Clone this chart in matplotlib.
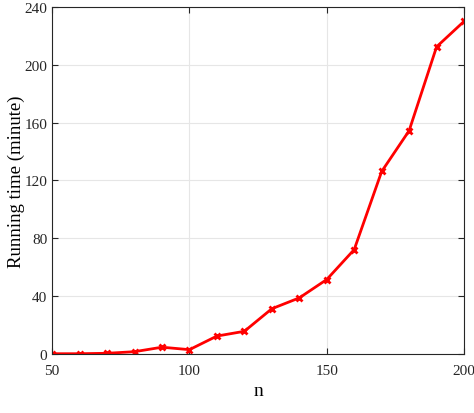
import numpy as np
import matplotlib.pyplot as plt

plt.rcParams['font.family'] = ['Liberation Serif', 'DejaVu Serif']

n = np.array([50, 60, 70, 80, 90, 100, 110, 120, 130, 140, 150, 160, 170, 180, 190, 200])
t = np.array([0.2, 0.2, 0.5, 1.6, 4.7, 3.0, 12.4, 15.7, 31.3, 38.8, 51.5, 72.2, 126.2, 154.4, 212.4, 230.0])

fig = plt.figure(figsize=(4.74, 4.14), dpi=100)
ax = fig.add_axes([0.110, 0.1425, 0.869, 0.8385])

ax.plot(n, t, color='red', linewidth=2, marker='x', markersize=5, markeredgewidth=2)

ax.set_xlim(50, 200)
ax.set_ylim(0, 240)
ax.set_xticks([50, 100, 150, 200])
ax.set_yticks([0, 40, 80, 120, 160, 200, 240])
ax.grid(True, color='#e6e6e6', linewidth=0.8)
ax.set_axisbelow(True)
ax.tick_params(direction='in', top=True, right=True, labelsize=11, length=4, colors='#262626')
ax.tick_params(axis='x', pad=7)
for s in ax.spines.values():
    s.set_color('#262626')
    s.set_linewidth(0.8)

ax.set_xlabel('n', fontsize=14)
ax.set_ylabel('Running time (minute)', fontsize=13.5)
ax.yaxis.set_label_coords(-0.067, 0.5)
ax.xaxis.set_label_coords(0.5, -0.08)

fig.savefig('out.png', dpi=100)
